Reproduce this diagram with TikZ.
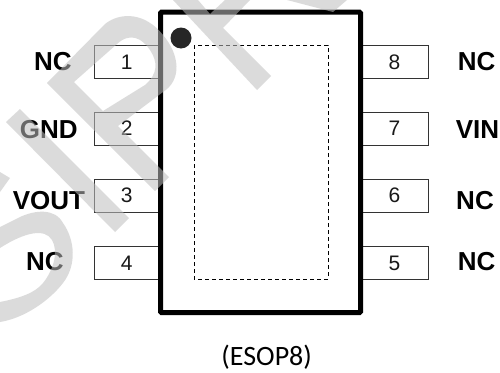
\documentclass[tikz,border=0pt]{standalone}
\usepackage{fontspec}
\setmainfont{Liberation Sans}
\newfontfamily\capfont{Carlito}
\tikzset{
  x=1pt,y=-1pt,
  pinbox/.style={draw=black!80,line width=0.8pt,fill=white},
  pinnum/.style={inner sep=0pt,anchor=center,font=\fontsize{21}{21}\selectfont,text=black!90},
  pinname/.style={inner sep=0pt,anchor=center,font=\fontsize{26}{26}\selectfont\bfseries,text=black},
  wm/.style={fill=black!25,fill opacity=0.55,even odd rule},
}
\begin{document}
\begin{tikzpicture}
\useasboundingbox (0,0) rectangle (500,372);
\fill[white] (0,0) rectangle (500,372);
% pins
\draw[pinbox] (94,45) rectangle (160,78);
\draw[pinbox] (94,112) rectangle (160,145);
\draw[pinbox] (94,179) rectangle (160,212);
\draw[pinbox] (94,246) rectangle (160,279);
\draw[pinbox] (361,45) rectangle (428,78);
\draw[pinbox] (361,112) rectangle (428,145);
\draw[pinbox] (361,179) rectangle (428,212);
\draw[pinbox] (361,246) rectangle (428,279);
% body
\draw[line width=5pt,rounded corners=1pt] (160.5,12.2) rectangle (360.5,312.5);
\draw[line width=0.8pt,dash pattern=on 4pt off 3pt] (194,45) rectangle (328,279);
\fill[black!85] (181,38) circle (10.5);
% numbers
\node[pinnum] (n1) at (126.7,62) {1};
\node[pinnum] (n2) at (126.7,128) {2};
\node[pinnum] (n3) at (126.7,195) {3};
\node[pinnum] (n4) at (126.7,263) {4};
\node[pinnum] (n8) at (394.5,62) {8};
\node[pinnum] (n7) at (394.5,128) {7};
\node[pinnum] (n6) at (394.5,195) {6};
\node[pinnum] (n5) at (394.5,263) {5};
% names
\node[pinname] (a1) at (53,62) {NC};
\node[pinname] (a2) at (48.7,130) {GND};
\node[pinname] (a3) at (49,201) {VOUT};
\node[pinname] (a4) at (45,262) {NC};
\node[pinname] (a8) at (476.7,62) {NC};
\node[pinname] (a7) at (477.5,130) {VIN};
\node[pinname] (a6) at (475,201) {NC};
\node[pinname] (a5) at (476.7,262) {NC};
\node[inner sep=0pt,anchor=center,font=\capfont\fontsize{28}{28}\selectfont] (cap) at (266.7,357.5) {(ESOP8)};
% watermark
\fill[wm] (6,122) -- (20,109) -- (129,218) -- (115,232) -- cycle;
\fill[wm] (47,83) -- (105,24) .. controls (120,12) and (145,12) .. (163,35)
  .. controls (180,55) and (182,80) .. (163,92) -- (118,126) -- (169,177) -- (155,191) -- cycle
  (74,82) -- (117,44) .. controls (130,32) and (142,38) .. (150,50)
  .. controls (158,62) and (158,74) .. (145,85) -- (103,111) -- cycle;
\fill[wm] (173,0) -- (257,90) -- (271,76) -- (223,28) -- (250,0) -- (225,0) -- (210,14) -- (198,0) -- cycle;
\fill[wm] (287,0) -- (333,12) -- (347,0) -- cycle;
\fill[wm] (0,172) -- (10,178) -- (0,192) -- cycle;
\fill[wm] (0,227) -- (20,217) .. controls (35,210) and (55,208) .. (63,223)
  .. controls (75,240) and (77,265) .. (63,283) .. controls (50,300) and (25,318) .. (0,322) --
  (0,302) .. controls (20,298) and (35,293) .. (43,283) .. controls (55,268) and (58,250) .. (52,240)
  .. controls (45,228) and (25,232) .. (0,248) -- cycle;
\end{tikzpicture}
\end{document}
